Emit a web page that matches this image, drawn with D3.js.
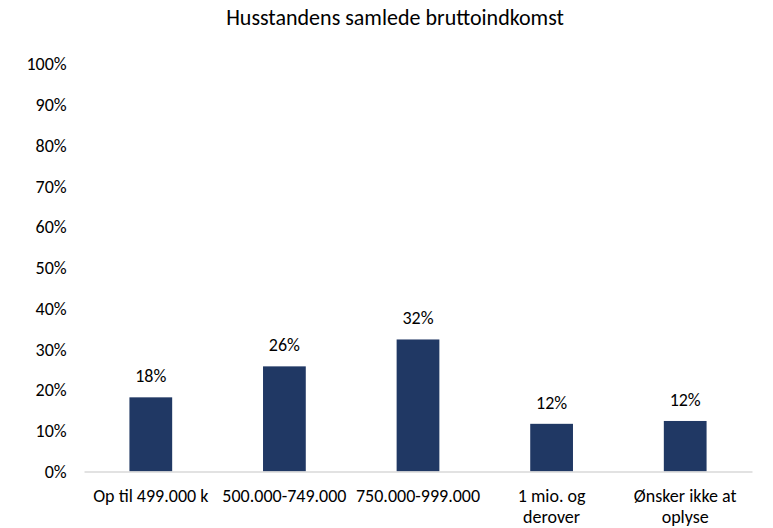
<!DOCTYPE html>
<html>
<head>
<meta charset="utf-8">
<script src="https://cdn.jsdelivr.net/npm/d3@7"></script>
<style>
    body { margin: 0; background: #fff; }
    text { font-family: Carlito, "Open Sans", "Noto Sans", sans-serif; fill: #000; }
</style>
</head>
<body>
<svg id="chart" width="773" height="528"></svg>
<script>
const categories = ['Op til 499.000 k', '500.000-749.000', '750.000-999.000', '1 mio. og derover', 'Ønsker ikke at oplyse'];
const categoryLines = [['Op til 499.000 k'], ['500.000-749.000'], ['750.000-999.000'], ['1 mio. og', 'derover'], ['Ønsker ikke at', 'oplyse']];
const values = [18.2, 25.8, 32.4, 11.7, 12.4];
const valueLabels = ['18%', '26%', '32%', '12%', '12%'];
const yTicks = [0, 10, 20, 30, 40, 50, 60, 70, 80, 90, 100];

const margin = { top: 64, right: 21, bottom: 56.5, left: 84 },
    width = 773,
    height = 528;

const svg = d3.select('#chart');

const x = d3.scaleBand()
    .domain(categories)
    .range([margin.left, width - margin.right])
    .paddingInner(0.68)
    .paddingOuter(0.34);

const y = d3.scaleLinear()
    .domain([0, 100])
    .range([height - margin.bottom, margin.top]);

// title
svg.append('text')
    .attr('x', 395)
    .attr('y', 25)
    .attr('text-anchor', 'middle')
    .style('font-size', '22px')
    .text('Husstandens samlede bruttoindkomst');

// y axis labels only, no line
const yAxis = svg.append('g')
    .attr('transform', `translate(${margin.left},0)`)
    .call(d3.axisLeft(y).tickValues(yTicks).tickSize(0).tickPadding(17.3).tickFormat(d => d + '%'));
yAxis.select('.domain').remove();
yAxis.selectAll('text').style('font-size', '18px').style('font-family', null);

// bars
svg.append('g')
    .selectAll('rect')
    .data(categories)
    .join('rect')
    .attr('x', d => x(d))
    .attr('y', (d, i) => y(values[i]))
    .attr('width', x.bandwidth())
    .attr('height', (d, i) => y(0) - y(values[i]))
    .attr('fill', '#203864');

// value labels
svg.append('g')
    .selectAll('text')
    .data(categories)
    .join('text')
    .attr('x', d => x(d) + x.bandwidth() / 2)
    .attr('y', (d, i) => y(values[i]) - 15)
    .attr('text-anchor', 'middle')
    .style('font-size', '18px')
    .text((d, i) => valueLabels[i]);

// x axis
const xAxis = svg.append('g')
    .attr('transform', `translate(0,${y(0)})`)
    .call(d3.axisBottom(x).tickSize(0).tickFormat(''));
xAxis.select('.domain').attr('stroke', '#d9d9d9').attr('stroke-width', 1.5);

xAxis.selectAll('.tick').each(function (d, i) {
    const t = d3.select(this).append('text')
        .attr('text-anchor', 'middle')
        .attr('y', 30)
        .style('font-size', '18px');
    categoryLines[i].forEach((line, j) => {
        t.append('tspan').attr('x', 0).attr('dy', j === 0 ? 0 : 21.5).text(line);
    });
});
</script>
</body>
</html>
